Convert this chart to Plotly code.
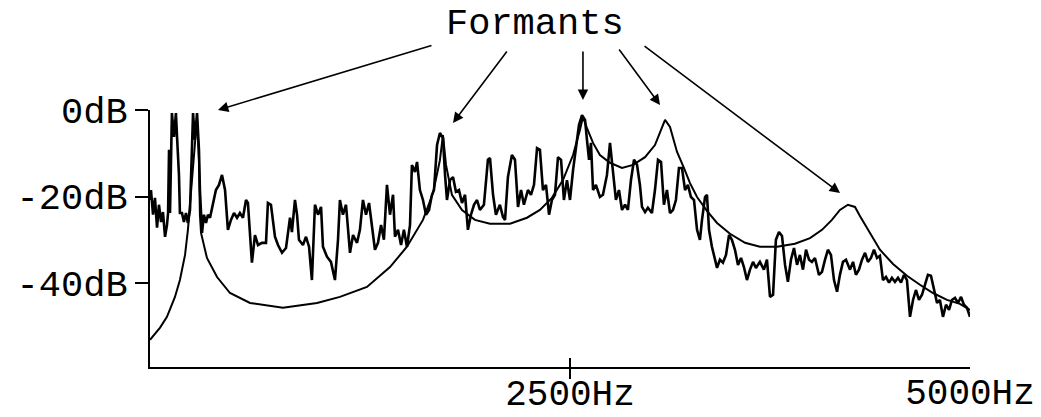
import plotly.graph_objects as go

# Harmonic spectrum (frequency in Hz, level in dB)
spec_hz = [-125, -119, -106, -94, -81, -69, -56, -44, -31, -19, -12, -6, 0, 12, 25, 37, 44, 56, 62, 75,
           87, 100, 112, 125, 137, 144, 156, 169, 181, 187, 200, 212, 225, 237, 250, 269, 287, 306, 325, 344,
           362, 381, 400, 419, 437, 456, 475, 487, 500, 512, 531, 550, 575, 600, 612, 631, 656, 675, 700, 725,
           750, 762, 781, 794, 806, 831, 850, 869, 887, 906, 925, 944, 956, 981, 1006, 1031, 1050, 1062, 1081, 1100,
           1125, 1144, 1169, 1187, 1206, 1225, 1244, 1262, 1281, 1300, 1319, 1337, 1356, 1375, 1394, 1406, 1425, 1444, 1462, 1481,
           1500, 1512, 1531, 1544, 1562, 1581, 1600, 1619, 1637, 1650, 1669, 1687, 1706, 1719, 1731, 1750, 1769, 1787, 1806, 1825,
           1844, 1862, 1881, 1900, 1919, 1937, 1962, 1987, 2000, 2019, 2037, 2062, 2081, 2094, 2112, 2137, 2156, 2175, 2194, 2212,
           2237, 2256, 2275, 2294, 2312, 2331, 2350, 2369, 2387, 2406, 2425, 2444, 2462, 2481, 2500, 2519, 2537, 2556, 2575, 2594,
           2606, 2619, 2631, 2644, 2662, 2687, 2706, 2731, 2750, 2769, 2787, 2806, 2825, 2844, 2862, 2881, 2900, 2919, 2937, 2950,
           2969, 2987, 3012, 3031, 3050, 3069, 3087, 3106, 3125, 3144, 3162, 3181, 3200, 3219, 3237, 3256, 3275, 3294, 3312, 3325,
           3344, 3356, 3369, 3387, 3406, 3419, 3437, 3456, 3475, 3494, 3512, 3531, 3550, 3569, 3587, 3606, 3625, 3644, 3662, 3687,
           3712, 3731, 3750, 3769, 3787, 3806, 3825, 3844, 3862, 3881, 3900, 3919, 3937, 3956, 3975, 3994, 4012, 4031, 4056, 4075,
           4094, 4112, 4131, 4150, 4169, 4187, 4206, 4225, 4250, 4269, 4287, 4306, 4325, 4344, 4362, 4381, 4400, 4419, 4437, 4456,
           4475, 4494, 4512, 4531, 4550, 4569, 4587, 4606, 4625, 4644, 4662, 4681, 4700, 4719, 4737, 4756, 4775, 4794, 4812, 4831,
           4850, 4869, 4887, 4906, 4925, 4944, 4962, 4981, 5000]
spec_db = [-20.8, -18.5, -24.2, -20.3, -27.2, -21.9, -25.9, -23.6, -29.3, -26.6, -23.8, -9.2, -23.8, -0.7, -6.2, -0.7, -6.2, -15.0, -23.8, -23.8,
           -25.9, -23.8, -26.1, -23.1, -9.2, -0.7, -6.9, -0.7, -9.2, -18.5, -28.4, -24.2, -26.1, -24.2, -24.9, -21.9, -18.5, -17.3, -15.0, -18.5,
           -27.7, -25.4, -23.8, -24.9, -23.8, -24.9, -20.8, -21.5, -28.4, -35.3, -28.9, -31.2, -30.7, -30.7, -21.5, -21.9, -29.3, -31.2, -33.0, -31.9,
           -24.9, -28.2, -20.8, -24.2, -30.0, -31.2, -29.3, -31.6, -39.3, -21.9, -24.2, -22.4, -31.6, -33.9, -35.1, -39.3, -30.0, -20.8, -24.2, -21.9,
           -33.0, -28.9, -30.7, -27.7, -20.8, -24.2, -21.5, -26.6, -32.3, -30.7, -26.6, -30.0, -17.3, -24.2, -19.6, -29.3, -27.7, -31.2, -27.7, -31.6,
           -26.6, -12.7, -14.3, -12.0, -18.5, -20.8, -24.2, -23.1, -19.6, -18.5, -8.1, -5.3, -6.5, -15.0, -20.8, -16.2, -15.5, -18.9, -18.5, -21.5,
           -19.6, -27.7, -24.2, -21.9, -20.8, -23.1, -21.9, -11.5, -11.1, -19.6, -24.2, -21.9, -24.7, -25.4, -15.5, -10.4, -11.5, -22.4, -18.5, -21.9,
           -18.5, -19.6, -17.3, -8.8, -9.2, -18.5, -17.3, -24.2, -20.8, -19.6, -10.9, -11.5, -20.8, -16.2, -20.8, -13.9, -9.2, -3.5, -1.2, -2.3,
           -6.9, -11.5, -7.6, -18.5, -17.3, -20.1, -19.6, -15.0, -7.6, -13.9, -20.8, -18.5, -23.1, -21.9, -23.1, -16.2, -11.5, -12.7, -17.3, -22.4,
           -23.6, -22.6, -23.8, -18.5, -11.5, -12.0, -21.9, -18.5, -23.8, -23.1, -20.8, -13.4, -13.4, -18.5, -17.3, -20.1, -20.8, -27.7, -30.0, -25.4,
           -20.1, -19.6, -27.7, -31.6, -34.2, -36.5, -34.6, -35.3, -33.5, -28.9, -30.0, -32.3, -35.8, -34.2, -36.3, -39.3, -36.9, -35.1, -36.5, -35.1,
           -36.9, -34.6, -43.2, -42.7, -30.0, -28.2, -29.1, -35.8, -39.7, -34.6, -31.9, -35.8, -33.5, -36.9, -32.3, -34.6, -35.1, -34.2, -38.1, -37.4,
           -34.6, -32.3, -33.5, -39.3, -42.0, -38.1, -35.1, -34.6, -36.9, -35.1, -38.1, -36.9, -34.6, -33.0, -35.1, -34.2, -32.3, -34.2, -33.7, -39.3,
           -38.6, -39.9, -38.8, -39.7, -38.8, -39.9, -38.1, -39.3, -47.8, -43.9, -41.6, -43.9, -42.7, -40.4, -38.1, -38.3, -41.6, -44.6, -43.9, -47.8,
           -45.0, -46.2, -43.9, -43.4, -44.6, -43.2, -45.0, -45.7, -47.8]

# Smooth spectral envelope (LPC-like)
env_hz = [-125, -62, -19, 31, 62, 94, 112, 131, 150, 162, 169, 181, 187, 194, 231, 294, 375, 500, 706, 919,
          1062, 1231, 1375, 1481, 1581, 1644, 1687, 1706, 1725, 1762, 1825, 1906, 2000, 2125, 2231, 2312, 2387, 2456, 2519, 2562,
          2581, 2606, 2644, 2687, 2750, 2825, 2894, 2969, 3031, 3069, 3094, 3125, 3169, 3212, 3250, 3294, 3356, 3419, 3500, 3594,
          3687, 3794, 3906, 4000, 4075, 4137, 4187, 4237, 4281, 4312, 4375, 4437, 4519, 4606, 4687, 4769, 4856, 4937, 5000]
env_db = [-53.1, -50.3, -47.8, -43.2, -39.3, -33.5, -27.7, -19.6, -11.6, -4.6, -1.8, -11.6, -24.3, -28.4, -34.2, -38.6, -42.3, -44.6, -45.7, -44.6,
          -43.2, -40.9, -36.3, -31.6, -25.4, -19.2, -11.6, -5.8, -12.7, -19.6, -23.1, -25.4, -26.3, -26.3, -24.9, -23.1, -20.3, -16.2, -10.4, -4.6,
          -1.6, -4.2, -7.6, -10.4, -12.2, -13.4, -12.7, -10.9, -8.1, -4.6, -2.3, -3.9, -9.7, -13.4, -16.9, -20.1, -23.3, -26.1, -28.6, -30.7,
          -31.6, -31.6, -30.9, -29.6, -27.7, -25.4, -23.1, -21.9, -22.4, -24.5, -28.4, -32.3, -35.6, -38.3, -40.4, -42.3, -43.9, -44.8, -46.2]

y_tickvals = [0, -20, -40]
y_ticktext = ["0dB", "-20dB", "-40dB"]
x_tickvals = [2500]
x_ticktext = ["2500Hz"]
x_endval = [5000]
x_endtext = ["5000Hz"]

title_text = "Formants"
# formant arrows: head position (paper) and tail offset (pixels)
arrow_head_x = [0.0829, 0.3695, 0.5280, 0.6220, 0.8415]
arrow_head_y = [1.0, 0.9494, 1.0389, 1.0195, 0.6770]
arrow_tail_dx = [215, 55, 0, -42, -197]
arrow_tail_dy = [-65, -73, -50, -57, -148]

FONT = "Liberation Mono"
FS = 37
XR = [-125, 5000]
YR = [-59.4, 0]

fig = go.Figure()
fig.add_trace(go.Scatter(x=spec_hz, y=spec_db, mode="lines",
                         line=dict(color="black", width=2.6), showlegend=False, cliponaxis=False))
fig.add_trace(go.Scatter(x=env_hz, y=env_db, mode="lines",
                         line=dict(color="black", width=2), showlegend=False, cliponaxis=False))

annotations = [dict(x=0.4695, y=1.3346, xref="paper", yref="paper", text=title_text, showarrow=False,
                    font=dict(family=FONT, size=FS, color="black"), xanchor="center", yanchor="middle")]
for hx, hy, dx, dy in zip(arrow_head_x, arrow_head_y, arrow_tail_dx, arrow_tail_dy):
    annotations.append(dict(x=hx, y=hy, xref="paper", yref="paper", ax=dx, ay=dy,
                            text="", showarrow=True, arrowhead=2, arrowsize=1.3, arrowwidth=1.6,
                            arrowcolor="black"))

tickfont = dict(family=FONT, size=FS, color="black")
xtickfont = dict(family=FONT, size=36, color="black")
fig.update_layout(
    template="none",
    width=1041, height=417,
    margin=dict(l=150, r=71, t=110, b=50, autoexpand=False),
    paper_bgcolor="white", plot_bgcolor="white",
    annotations=annotations,
    xaxis=dict(range=XR, showgrid=False, zeroline=False, showline=True, linecolor="black", linewidth=2,
               tickvals=x_tickvals, ticktext=x_ticktext, ticks="outside", ticklen=10, tickwidth=2,
               tickcolor="black", tickfont=xtickfont, automargin=False, ticklabelstandoff=-17,
               ticklabeloverflow="allow"),
    xaxis2=dict(range=XR, overlaying="x", anchor="y", side="bottom", showgrid=False, zeroline=False,
                showline=False, tickvals=x_tickvals, ticks="inside", ticklen=9, tickwidth=2,
                tickcolor="black", showticklabels=False, automargin=False),
    xaxis3=dict(range=XR, overlaying="x", anchor="y", side="bottom", showgrid=False, zeroline=False,
                showline=False, tickvals=x_endval, ticktext=x_endtext, ticks="outside", ticklen=10,
                tickcolor="rgba(0,0,0,0)", tickfont=xtickfont, automargin=False, ticklabelstandoff=-17,
                ticklabeloverflow="allow"),
    yaxis=dict(range=YR, showgrid=False, zeroline=False, showline=True, linecolor="black", linewidth=2,
               tickvals=y_tickvals, ticktext=y_ticktext, ticks="outside", ticklen=13, tickwidth=2,
               tickcolor="black", tickfont=tickfont, automargin=False),
)
# empty traces to activate overlay axes
fig.add_trace(go.Scatter(x=[None], y=[None], xaxis="x2", yaxis="y", showlegend=False, hoverinfo="skip"))
fig.add_trace(go.Scatter(x=[None], y=[None], xaxis="x3", yaxis="y", showlegend=False, hoverinfo="skip"))

fig.write_html("out.html", config={"displayModeBar": False},
               post_script="document.body.style.margin='0';")
